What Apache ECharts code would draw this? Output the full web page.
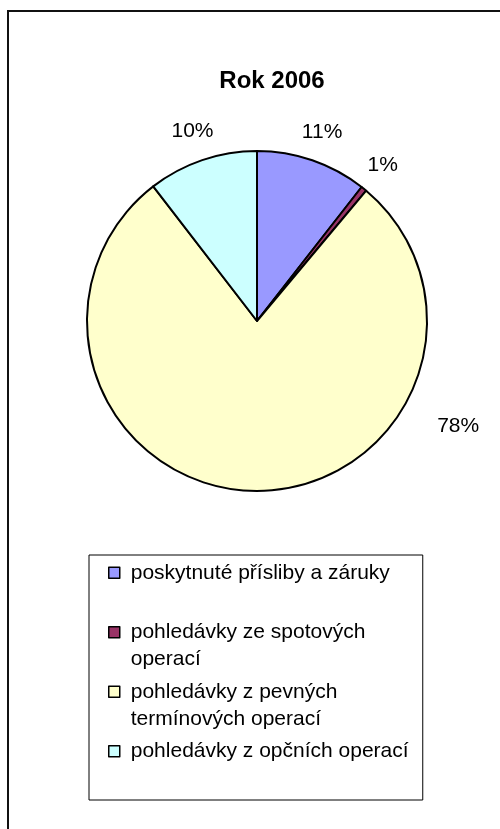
<!DOCTYPE html>
<html><head><meta charset="utf-8">
<script src="https://cdn.jsdelivr.net/npm/echarts@6/dist/echarts.min.js"></script>
<style>html,body{margin:0;padding:0;background:#fff}#c{width:500px;height:829px}</style>
</head><body><div id="c"></div>
<script>
// ---- data ----
const chartTitle = 'Rok 2006';
const categories = [
  'poskytnuté přísliby a záruky',
  'pohledávky ze spotových operací',
  'pohledávky z pevných termínových operací',
  'pohledávky z opčních operací'
];
const values = [10.55, 0.55, 78.45, 10.45];
const colors = ['#9999FF', '#993366', '#FFFFCC', '#CCFFFF'];

// ---- layout ----
const FONT = '"Liberation Sans", Arial, sans-serif';
const CX = 257, CY = 321, R = 170;
const LABEL_DIST = 200;
// the big slice's label was dragged away from its default spot in the original
const labelOverride = {2: {angle: 117.6, dist: 227}};

const total = values.reduce((a, b) => a + b, 0);
function midAngle(i) {
  let acc = 0;
  for (let k = 0; k < i; k++) acc += values[k];
  return (acc + values[i] / 2) / total * 360;
}

const mctx = document.createElement('canvas').getContext('2d');
mctx.font = '21px "Liberation Sans"';
const LEGEND_TEXT_W = 282;
function wrapLegend(name) {
  const words = name.split(' ');
  const lines = [];
  let cur = '';
  words.forEach(w => {
    const test = cur ? cur + ' ' + w : w;
    if (cur && mctx.measureText(test).width > LEGEND_TEXT_W) { lines.push(cur); cur = w; }
    else cur = test;
  });
  lines.push(cur);
  while (lines.length < 2) lines.push('');
  return lines.join('\n');
}

const chart = echarts.init(document.getElementById('c'));
chart.setOption({
  animation: false,
  backgroundColor: '#fff',
  title: {
    text: chartTitle,
    left: 272, top: 69, padding: 0, textAlign: 'center',
    textStyle: {fontFamily: FONT, fontSize: 24, fontWeight: 'bold', color: '#000'}
  },
  graphic: [{
    type: 'polyline', silent: true,
    shape: {points: [[8, 829], [8, 11], [500, 11]]},
    style: {stroke: '#111', lineWidth: 2, fill: null}
  }],
  legend: {
    orient: 'vertical', left: 89, top: 555,
    padding: [3.5, 10, 7.5, 19],
    itemGap: 4, itemWidth: 17, itemHeight: 54,
    icon: 'path://M0,8h11v11h-11z M0,0 M17,54',
    borderColor: '#000', borderWidth: 1,
    itemStyle: {borderColor: '#000', borderWidth: 1.5},
    textStyle: {fontFamily: FONT, fontSize: 21, color: '#000', width: LEGEND_TEXT_W, lineHeight: 27},
    formatter: wrapLegend,
    data: categories
  },
  series: [{
    type: 'pie',
    center: [CX, CY], radius: R,
    startAngle: 90, clockwise: true,
    percentPrecision: 0,
    avoidLabelOverlap: false,
    itemStyle: {borderColor: '#000', borderWidth: 2},
    label: {show: true, position: 'outside', formatter: '{d}%', fontFamily: FONT, fontSize: 21, color: '#000'},
    labelLine: {show: false},
    emphasis: {disabled: true},
    labelLayout: function (p) {
      const i = p.dataIndex;
      const pl = labelOverride[i] || {angle: midAngle(i), dist: LABEL_DIST};
      const a = pl.angle * Math.PI / 180;
      return {x: CX + pl.dist * Math.sin(a), y: CY - pl.dist * Math.cos(a), align: 'center', verticalAlign: 'middle'};
    },
    data: categories.map((n, i) => ({name: n, value: values[i], itemStyle: {color: colors[i]}}))
  }]
});
</script></body></html>
